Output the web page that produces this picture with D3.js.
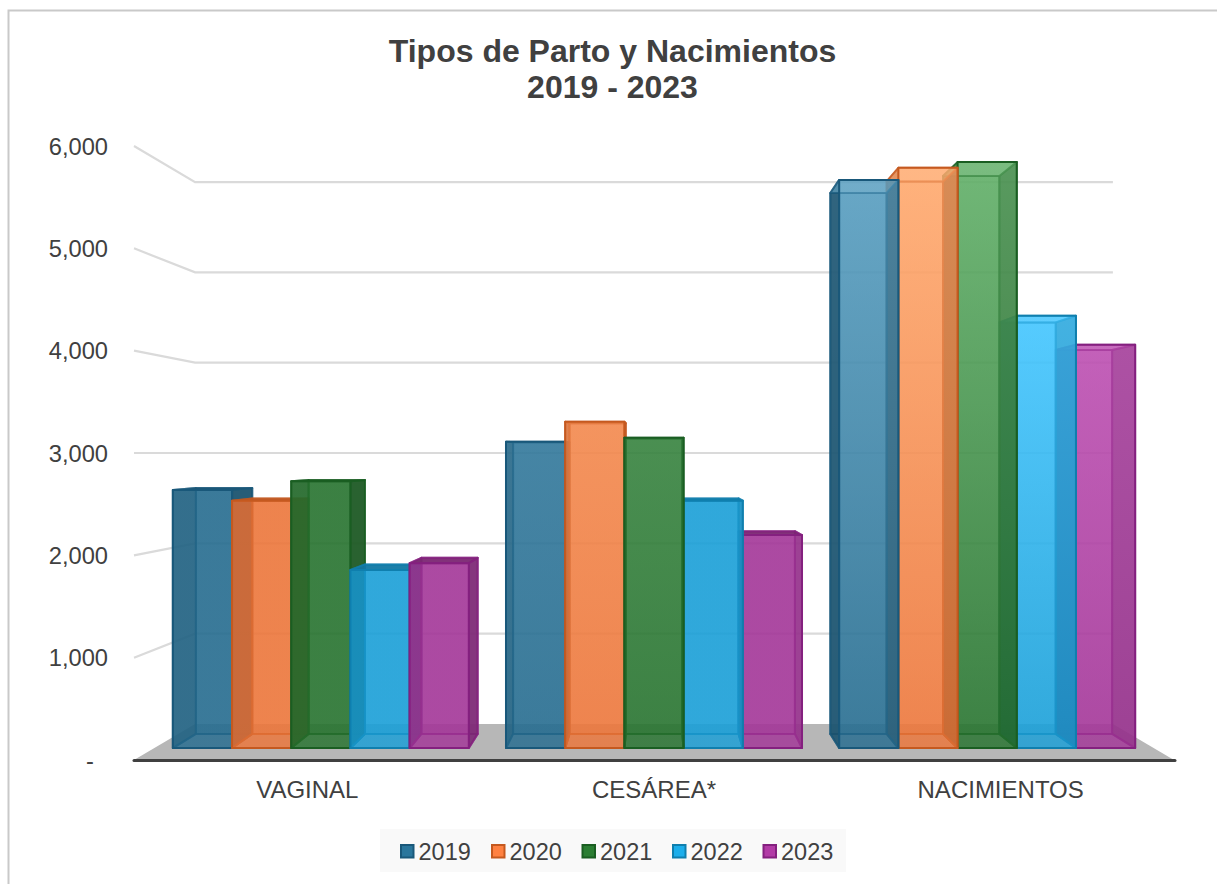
<!DOCTYPE html>
<html><head><meta charset="utf-8">
<script src="https://cdn.jsdelivr.net/npm/d3@7/dist/d3.min.js"></script>
<style>html,body{margin:0;padding:0;background:#fff;overflow:hidden}svg{display:block;font-family:"Liberation Sans",Arial,sans-serif}</style>
</head><body><svg id="c" width="1217" height="884"></svg>
<script>
const categories = ["VAGINAL","CESÁREA*","NACIMIENTOS"];
const years = ["2019","2020","2021","2022","2023"];
const values2019 = [2625,3115,5777];
const values2020 = [2515,3318,5900];
const values2021 = [2712,3156,5958];
const values2022 = [1810,2515,4395];
const values2023 = [1880,2165,4100];
const seriesValues = [values2019,values2020,values2021,values2022,values2023];
const yTicks = [0,1000,2000,3000,4000,5000,6000];
const baseColors  = ["#266c8f","#ec763b","#27732f","#1a9fd7","#a33698"];
const lightColors = ["#589ec0","#ffaa6f","#62b069","#44c6ff","#c256b7"];
const edgeColors  = ["#19587a","#c5591f","#1a5e22","#0f7fae","#84207f"];
const legendX = [400,491,581.5,672,762.5];

const svg = d3.select("#c");
const VPX = 654, VPY = 453;
const S = {wallFront:1, wallBack:0.8825, barFront:0.961, barBack:0.915};
const xCat = d3.scaleBand().domain(categories).range([-520,520]).paddingInner(0.1115).paddingOuter(0.0557);
const xYear = d3.scaleBand().domain(years).range([0,xCat.bandwidth()]);
const yW = d3.scaleLinear().domain([0,6000]).range([307,-307]);
const px = (x,s)=>VPX+x*s;
const py = (v,s)=>VPY+yW(v)*s;
const pts = a=>a.map(p=>p.join(",")).join(" ");
const defs = svg.append("defs");

// frame: left and top edges only, as in the reference
svg.append("path").attr("d","M8.5,890V10.5H1217").attr("fill","none").attr("stroke","#c9c9c9").attr("stroke-width",2);

// gridlines on walls
const grid = svg.append("g").attr("fill","none").attr("stroke","#dadada").attr("stroke-width",2.2);
grid.selectAll("polyline").data(yTicks.filter(d=>d>0)).join("polyline")
  .attr("points",d=>pts([[px(-520,S.wallFront),py(d,S.wallFront)],[px(-520,S.wallBack),py(d,S.wallBack)],[px(520,S.wallBack),py(d,S.wallBack)]]));

// floor
svg.append("polygon").attr("fill","#b7b7b7")
  .attr("points",pts([[px(-520,1),py(0,1)],[px(520,1),py(0,1)],[px(520,S.wallBack),py(0,S.wallBack)],[px(-520,S.wallBack),py(0,S.wallBack)]]));

// bars, painted farthest from the vanishing point first
const fb=S.barFront, bb=S.barBack;
const bars=[];
categories.forEach((c,ci)=>years.forEach((yr,si)=>{
  const x0 = xCat(c)+xYear(yr), x1 = x0+xYear.bandwidth();
  bars.push({c,ci,yr,si,v:seriesValues[si][ci],x0,x1,dist:Math.abs((x0+x1)/2)});
}));
bars.sort((a,b)=>b.dist-a.dist);
const barLayer = svg.append("g");
bars.forEach(d=>{
  const {yr,si,v,x0,x1,ci}=d;
  const t = Math.max(0,Math.min(1,(v-2700)/1700));
  const topCol = d3.interpolateRgb(baseColors[si],lightColors[si])(t);
  const id = `g${yr}_${ci}`;
  const F = {l:px(x0,fb),r:px(x1,fb),t:py(v,fb),b:py(0,fb)};
  const B = {l:px(x0,bb),r:px(x1,bb),t:py(v,bb),b:py(0,bb)};
  const grad = defs.append("linearGradient").attr("id",id).attr("gradientUnits","userSpaceOnUse")
    .attr("x1",0).attr("x2",0).attr("y1",F.t).attr("y2",F.b);
  grad.append("stop").attr("offset",0).attr("stop-color",topCol);
  grad.append("stop").attr("offset",1).attr("stop-color",baseColors[si]);
  const side = d3.color(baseColors[si]).darker(0.85).formatHex();
  const edgeA = 0.7;
  const topExterior = B.t<F.t;
  const faces = [
    {p:[[B.l,B.t],[B.r,B.t],[B.r,B.b],[B.l,B.b]],fill:`url(#${id})`,a:0.75,ea:edgeA},
    {p:[[F.l,F.b],[F.r,F.b],[B.r,B.b],[B.l,B.b]],fill:baseColors[si],a:0.55,ea:edgeA},
    {p:[[F.l,F.t],[B.l,B.t],[B.l,B.b],[F.l,F.b]],fill:side,a:0.8,ea:edgeA},
    {p:[[F.r,F.t],[B.r,B.t],[B.r,B.b],[F.r,F.b]],fill:side,a:0.8,ea:edgeA},
    {p:[[F.l,F.t],[F.r,F.t],[B.r,B.t],[B.l,B.t]],fill:topExterior?side:`url(#${id})`,a:topExterior?0.85:0.6,ea:edgeA},
    {p:[[F.l,F.t],[F.r,F.t],[F.r,F.b],[F.l,F.b]],fill:`url(#${id})`,a:0.62,ea:1}
  ];
  barLayer.append("g").attr("class",`bar y${yr}`).selectAll("polygon").data(faces).join("polygon")
    .attr("points",f=>pts(f.p)).attr("fill",f=>f.fill).attr("fill-opacity",f=>f.a)
    .attr("stroke",edgeColors[si]).attr("stroke-opacity",f=>f.ea).attr("stroke-width",2).attr("stroke-linejoin","round");
});

// axis baseline
svg.append("line").attr("x1",px(-520,1)).attr("x2",px(520,1)+1).attr("y1",py(0,1)+0.5).attr("y2",py(0,1)+0.5)
  .attr("stroke","#404040").attr("stroke-width",3).attr("stroke-linecap","round");

// y axis
const yFront = d3.scaleLinear().domain([0,6000]).range([py(0,1),py(6000,1)]);
const yAxis = svg.append("g").attr("transform","translate(108,0)")
  .call(d3.axisLeft(yFront).tickValues(yTicks).tickSize(0).tickPadding(0).tickFormat(d=>d===0?"-":d3.format(",")(d)));
yAxis.select(".domain").remove();
yAxis.selectAll("text").attr("font-size",23.7).attr("font-family","Liberation Sans").attr("fill","#404040")
  .attr("dx",d=>d===0?-14:0).attr("dy","0.34em");

// x axis
const xFront = d3.scaleBand().domain(categories).range([px(-520,1),px(520,1)]);
const xAxis = svg.append("g").attr("transform",`translate(0,${py(0,1)})`)
  .call(d3.axisBottom(xFront).tickSize(0).tickPadding(0));
xAxis.select(".domain").remove();
xAxis.selectAll("text").attr("font-size",24).attr("font-family","Liberation Sans").attr("fill","#404040")
  .attr("y",37.5).attr("dy",0);

// title
const title = svg.append("text").attr("text-anchor","middle").attr("font-weight","bold").attr("font-size",32).attr("fill","#404040");
title.append("tspan").attr("x",612.5).attr("y",61.5).text("Tipos de Parto y Nacimientos");
title.append("tspan").attr("x",612.5).attr("y",98).text("2019 - 2023");

// legend
const lg = svg.append("g");
lg.append("rect").attr("x",380).attr("y",829).attr("width",466).attr("height",43).attr("fill","#f9f9f9");
const li = lg.selectAll("g").data(years).join("g").attr("transform",(d,i)=>`translate(${legendX[i]},0)`);
li.append("rect").attr("x",1).attr("y",845).attr("width",12.5).attr("height",12.5)
  .attr("fill",(d,i)=>d3.rgb(baseColors[i]).brighter(0.25)).attr("stroke",(d,i)=>edgeColors[i]).attr("stroke-width",2);
li.append("text").attr("x",18.5).attr("y",859.5).attr("font-size",23.5).attr("fill","#404040").text(d=>d);
</script></body></html>
